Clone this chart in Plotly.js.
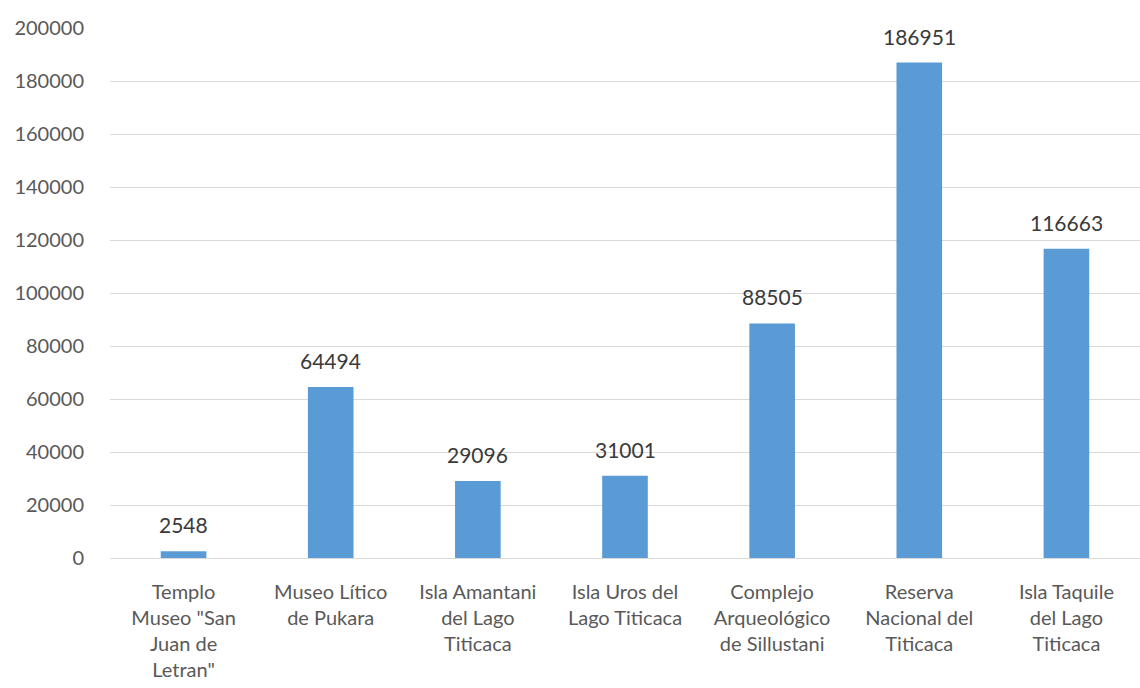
<!DOCTYPE html>
<html>
<head>
<meta charset="utf-8">
<script src="https://cdn.plot.ly/plotly-3.0.1.min.js"></script>
<style>
  html, body { margin: 0; padding: 0; background: #fff; }
  #plot { width: 1140px; height: 688px; }
</style>
</head>
<body>
<div id="plot"></div>
<script>
// Visitas por atractivo turístico
var lugares = [
    'Templo<br>Museo "San<br>Juan de<br>Letran"',
    'Museo Lítico<br>de Pukara',
    'Isla Amantani<br>del Lago<br>Titicaca',
    'Isla Uros del<br>Lago Titicaca',
    'Complejo<br>Arqueológico<br>de Sillustani',
    'Reserva<br>Nacional del<br>Titicaca',
    'Isla Taquile<br>del Lago<br>Titicaca'
];
var visitantes = [2548, 64494, 29096, 31001, 88505, 186951, 116663];
var yTicks = [0, 20000, 40000, 60000, 80000, 100000, 120000, 140000, 160000, 180000, 200000];

var trace1 = {
    x: lugares.map((d, i) => i),
    y: visitantes,
    type: "bar",
    marker: { color: "#5b9bd5" },
    hoverinfo: "y"
};

// data labels sit a bit above each bar
var etiquetas = visitantes.map((v, i) => ({
    x: i,
    y: v,
    text: String(v),
    showarrow: false,
    yanchor: "bottom",
    yshift: 12,
    font: { family: "Lato, sans-serif", size: 21, color: "#3a3a3a" }
}));

var layout = {
    width: 1140,
    height: 688,
    margin: { l: 110, r: 0, t: 28, b: 130 },
    paper_bgcolor: "#fff",
    plot_bgcolor: "#fff",
    showlegend: false,
    bargap: 0.69,
    font: { family: "Lato, sans-serif", size: 20, color: "#595959" },
    xaxis: {
        tickvals: lugares.map((d, i) => i),
        ticktext: lugares,
        range: [-0.5, lugares.length - 0.5],
        showgrid: false,
        zeroline: false,
        showline: true,
        linecolor: "#d9d9d9",
        ticks: "",
        ticklabelstandoff: 16,
        tickfont: { size: 20, color: "#595959" }
    },
    yaxis: {
        range: [0, 200000],
        tickvals: yTicks,
        ticktext: yTicks.map(String),
        showgrid: true,
        gridcolor: "#d9d9d9",
        zeroline: false,
        showline: false,
        ticks: "",
        ticklabelstandoff: 25,
        tickfont: { size: 20, color: "#595959" }
    },
    annotations: etiquetas
};

Plotly.newPlot("plot", [trace1], layout, { displayModeBar: false, staticPlot: true });
</script>
</body>
</html>
